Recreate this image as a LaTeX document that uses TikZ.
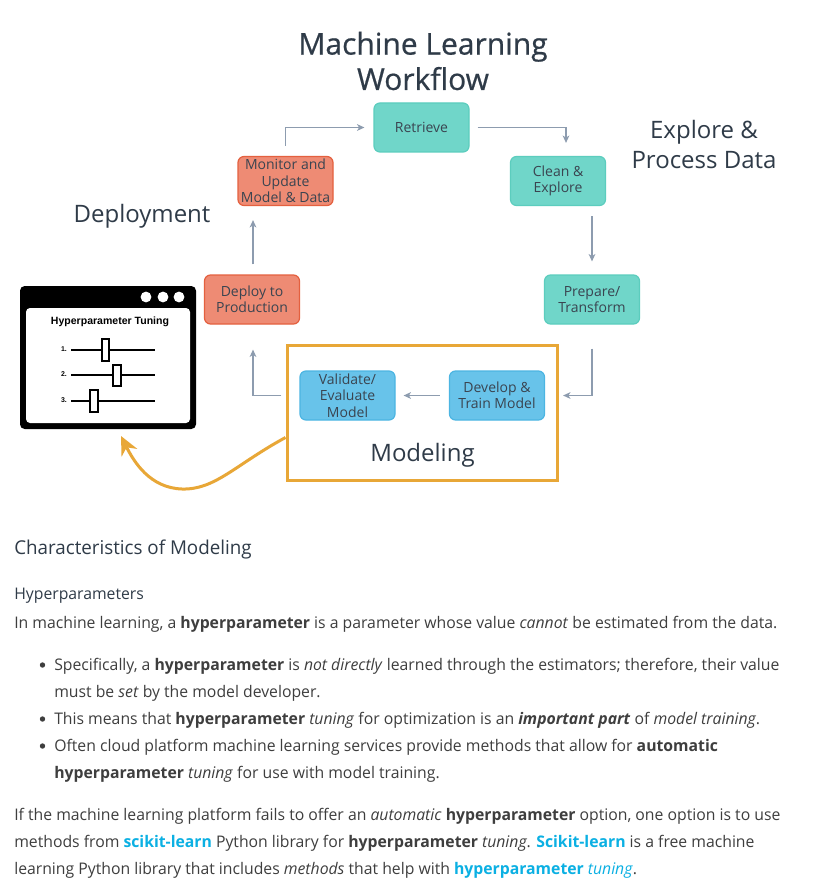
\documentclass[tikz,border=0pt]{standalone}
\usepackage{fontspec}
\setmainfont{Open Sans}
\newfontfamily\bodyf{Open Sans}[FakeStretch=0.985]
\newfontfamily\titlef{Open Sans}[FakeBold=0.6]
\newfontfamily\arialf{Liberation Sans}
\usetikzlibrary{arrows.meta,calc}
\definecolor{ink}{HTML}{2F3B48}
\definecolor{boxtxt}{HTML}{3A4450}
\definecolor{txt}{HTML}{3E3E3E}
\definecolor{tealf}{HTML}{70D6C9}
\definecolor{tealb}{HTML}{5CCDBE}
\definecolor{bluef}{HTML}{68C3EA}
\definecolor{blueb}{HTML}{4CB5E2}
\definecolor{salf}{HTML}{EE8B74}
\definecolor{salb}{HTML}{E4603F}
\definecolor{arr}{HTML}{8D9CAF}
\definecolor{orng}{HTML}{E8A737}
\definecolor{linkc}{HTML}{0BB0E3}
\tikzset{
  wbox/.style={rounded corners=4.5pt, minimum width=71.25pt, minimum height=36.75pt,
    align=center, text=boxtxt, line width=0.9pt, inner sep=1pt,
    font=\fontsize{10.5}{12.2}\selectfont},
  tealbox/.style={wbox, fill=tealf, draw=tealb},
  bluebox/.style={wbox, fill=bluef, draw=blueb},
  salbox/.style={wbox, fill=salf, draw=salb},
  conn/.style={draw=arr, line width=0.9pt, -{Stealth[length=5.5pt,width=5pt,inset=1.5pt]}},
  region/.style={text=ink, align=center, font=\fontsize{18}{22.5}\selectfont},
  tline/.style={anchor=base west, inner sep=0pt, text=txt, font=\bodyf\fontsize{12}{14}\selectfont},
  slider/.style={line width=1.1pt, black},
  knob/.style={draw=black, fill=white, line width=1.1pt},
  bullet/.style={fill=txt},
}
\newcommand{\lk}[1]{\textcolor{linkc}{#1}}
\begin{document}
\begin{tikzpicture}[x=0.75pt,y=-0.75pt]
\useasboundingbox (0,0) rectangle (835,891);
\fill[white] (0,0) rectangle (835,891);

% title and regions
\node[text=ink, align=center, font=\titlef\fontsize{22.5}{26.5}\selectfont] (title) at (423,61) {Machine Learning\\Workflow};
\node[region] (explore) at (704,145) {Explore \&\\Process Data};
\node[region] (deployment) at (142,216) {Deployment};

% modeling frame
\node[draw=orng, line width=2.25pt, minimum width=202.5pt, minimum height=101.25pt] (modbox) at (422,412.5) {};
\node[region] (modeling) at (422.5,455) {Modeling};

% workflow boxes
\node[tealbox] (retr) at (421.5,127.5) {Retrieve};
\node[tealbox] (clean) at (558,181) {Clean \&\\Explore};
\node[tealbox] (prep) at (592,299.5) {Prepare/\\Transform};
\node[bluebox] (dev) at (497,395.5) {Develop \&\\Train Model};
\node[bluebox] (val) at (347.5,395.5) {Validate/\\Evaluate\\Model};
\node[salbox] (deploy) at (252,299.5) {Deploy to\\Production};
\node[salbox] (mon) at (285.5,181) {Monitor and\\Update\\Model \& Data};

% connectors
\draw[conn] ($(mon.north)+(0,-10)$) |- ($(retr.west)+(-9,0)$);
\draw[conn] ($(retr.east)+(8,0)$) -| ($(clean.north)+(8,-13)$);
\draw[conn] ($(prep.north |- clean.south)+(0,10)$) -- ($(prep.north)+(0,-13)$);
\draw[conn] ($(prep.south)+(0,24)$) |- ($(dev.east)+(18,0)$);
\draw[conn] ($(dev.west)+(-9,0)$) -- ($(val.east)+(8,0)$);
\draw[conn] ($(val.west)+(-18,0)$) -| ($(deploy.south)+(1,25)$);
\draw[conn] ($(deploy.north)+(1,-10)$) -- ($(deploy.north |- mon.south)+(1,14)$);

% hyperparameter tuning window
\node[fill=black, rounded corners=3.5pt, minimum width=132pt, minimum height=107.25pt, inner sep=0pt] (win) at (108,357.5) {};
\fill[white, rounded corners=3pt] (26,308) rectangle (190,423);
\foreach \cx in {146,163,179} \fill[white] (\cx,297) circle[radius=5.4];
\node[font=\arialf\bfseries\fontsize{7.9}{9}\selectfont] (wtitle) at (110,322) {Hyperparameter Tuning};
\foreach \yy/\lab in {350/1,375/2,401/3} {
  \draw[slider] (71,\yy) -- (155,\yy);
  \node[font=\arialf\bfseries\fontsize{5.2}{6}\selectfont, inner sep=0pt] at (64,\yy-1) {\lab.};
}
\draw[knob] (102,339) rectangle (109,361);
\draw[knob] (113,365) rectangle (121,386);
\draw[knob] (90,390) rectangle (98,412);

% orange feedback arrow
\coordinate (tip) at (121,436);
\draw[orng, line width=2.25pt, -{Stealth[length=14pt,width=13pt,inset=4.5pt]}]
  ($(modbox.west)+(0,25)$) .. controls (235,465) and (215,490) .. (182,489)
  .. controls (150,488) and (134,462) .. (tip);

% text section
\node[tline, text=ink, font=\bodyf\fontsize{14.3}{17}\selectfont] (h1) at (14,554) {Characteristics of Modeling};
\node[tline, text=ink] (h2) at (14,599) {Hyperparameters};
\node[tline] (p1) at (14,628) {In machine learning, a \textbf{hyperparameter} is a parameter whose value \textit{cannot} be estimated from the data.};
\foreach \yy in {665,719,746} \fill[bullet] (42.5,\yy) circle[radius=2.7];
\node[tline] (b1a) at (54,670) {Specifically, a \textbf{hyperparameter} is \textit{not directly} learned through the estimators; therefore, their value};
\node[tline] (b1b) at (54,697) {must be \textit{set} by the model developer.};
\node[tline] (b2) at (54,724) {This means that \textbf{hyperparameter} \textit{tuning} for optimization is an \textbf{\textit{important part}} of \textit{model training}.};
\node[tline] (b3a) at (54,751) {Often cloud platform machine learning services provide methods that allow for \textbf{automatic}};
\node[tline] (b3b) at (54,778) {\textbf{hyperparameter} \textit{tuning} for use with model training.};
\node[tline] (q1) at (14,820) {If the machine learning platform fails to offer an \textit{automatic} \textbf{hyperparameter} option, one option is to use};
\node[tline] (q2) at (14,847) {methods from \lk{\textbf{scikit-learn}} Python library for \textbf{hyperparameter} \textit{tuning}. \lk{\textbf{Scikit-learn}} is a free machine};
\node[tline] (q3) at (14,874) {learning Python library that includes \textit{methods} that help with \lk{\textbf{hyperparameter} \textit{tuning}}.};
\end{tikzpicture}
\end{document}
